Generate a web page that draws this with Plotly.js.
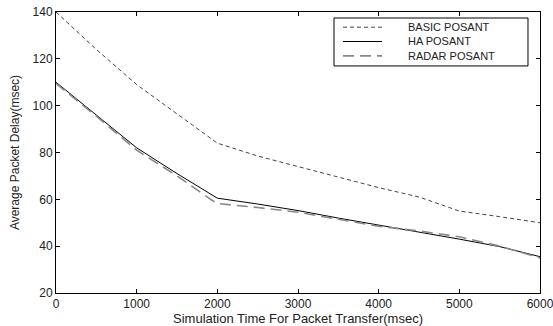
<!DOCTYPE html>
<html>
<head>
<meta charset="utf-8">
<script src="https://cdn.plot.ly/plotly-3.0.1.min.js"></script>
<style>html,body{margin:0;padding:0;background:#fff;}#chart{width:553px;height:326px;}</style>
</head>
<body>
<div id="chart"></div>
<script>
var timeBasic = [0, 500, 1000, 1500, 2000, 2500, 3000, 3500, 4000, 4500, 5000, 5500, 6000];
var basicPosant = [140, 124, 109, 96.5, 84, 78.5, 74, 69.5, 65, 61, 55, 52.6, 50];
var timeHa = [0, 500, 1000, 1500, 2000, 2500, 3000, 3500, 4000, 4500, 5000, 5500, 6000];
var haPosant = [110, 96, 82, 71, 60.5, 58, 55.2, 52, 49, 46.2, 43, 39.8, 35.5];
var timeRadar = [0, 500, 1000, 1500, 1930, 2000, 2500, 3000, 3500, 4000, 4500, 5000, 5500, 6000];
var radarPosant = [109.5, 95.5, 81, 70, 59.7, 58.2, 56.5, 54.5, 51.5, 48.5, 46.5, 44, 40, 35];
var seriesNames = ['BASIC POSANT', 'HA POSANT', 'RADAR POSANT'];
var xTicks = [0, 1000, 2000, 3000, 4000, 5000, 6000];
var yTicks = [20, 40, 60, 80, 100, 120, 140];

var FONT = 'Liberation Sans, Arial, sans-serif';
var traces = [
  {x: timeBasic, y: basicPosant, name: seriesNames[0], mode: 'lines',
   line: {color: '#444', width: 1, dash: '4px,3px'}},
  {x: timeHa, y: haPosant, name: seriesNames[1], mode: 'lines',
   line: {color: '#000', width: 1}},
  {x: timeRadar, y: radarPosant, name: seriesNames[2], mode: 'lines',
   line: {color: '#888', width: 1.6, dash: '11px,6px'}}
];

// Hand-built compact legend, styles taken from the traces
var legendBox = {x0: 0.5744, x1: 0.9752, y0: 0.808, y1: 0.9786};
var legendRows = [0.946, 0.895, 0.844];
var shapes = [{type: 'rect', xref: 'paper', yref: 'paper',
  x0: legendBox.x0, x1: legendBox.x1, y0: legendBox.y0, y1: legendBox.y1,
  line: {color: '#000', width: 1}, fillcolor: '#fff', layer: 'above'}];
traces.forEach(function (t, i) {
  shapes.push({type: 'line', xref: 'paper', yref: 'paper',
    x0: 0.593, x1: 0.6736, y0: legendRows[i], y1: legendRows[i],
    line: t.line, layer: 'above'});
});
var annotations = [{xref: 'paper', yref: 'paper', x: 0.725, y: legendRows[1],
  xanchor: 'left', yanchor: 'middle', align: 'left', showarrow: false, borderpad: 0,
  text: seriesNames.join('<br>'),
  font: {family: FONT, size: 11, color: '#222'}}];

var axisCommon = {
  showgrid: false, zeroline: false, showline: true, linecolor: '#000', linewidth: 1,
  mirror: 'ticks', ticks: 'inside', ticklen: 4, tickcolor: '#000',
  tickfont: {family: FONT, size: 12, color: '#222'}
};

var layout = {
  width: 553, height: 326,
  margin: {l: 56, r: 13, t: 12, b: 33},
  paper_bgcolor: '#fff', plot_bgcolor: '#fff',
  showlegend: false,
  shapes: shapes,
  annotations: annotations,
  xaxis: Object.assign({}, axisCommon, {
    range: [0, 6000], tickvals: xTicks, ticktext: xTicks.map(String),
    ticklabeloverflow: 'allow',
    title: {text: 'Simulation Time For Packet Transfer(msec)', standoff: 3,
            font: {family: FONT, size: 13, color: '#222'}}
  }),
  yaxis: Object.assign({}, axisCommon, {
    range: [20, 140], tickvals: yTicks, ticktext: yTicks.map(String),
    title: {text: 'Average Packet Delay(msec)', standoff: 10,
            font: {family: 'Liberation Sans Narrow, Liberation Sans, Arial, sans-serif', size: 12, color: '#222'}}
  })
};

Plotly.newPlot('chart', traces, layout, {displayModeBar: false, staticPlot: true});
</script>
</body>
</html>
